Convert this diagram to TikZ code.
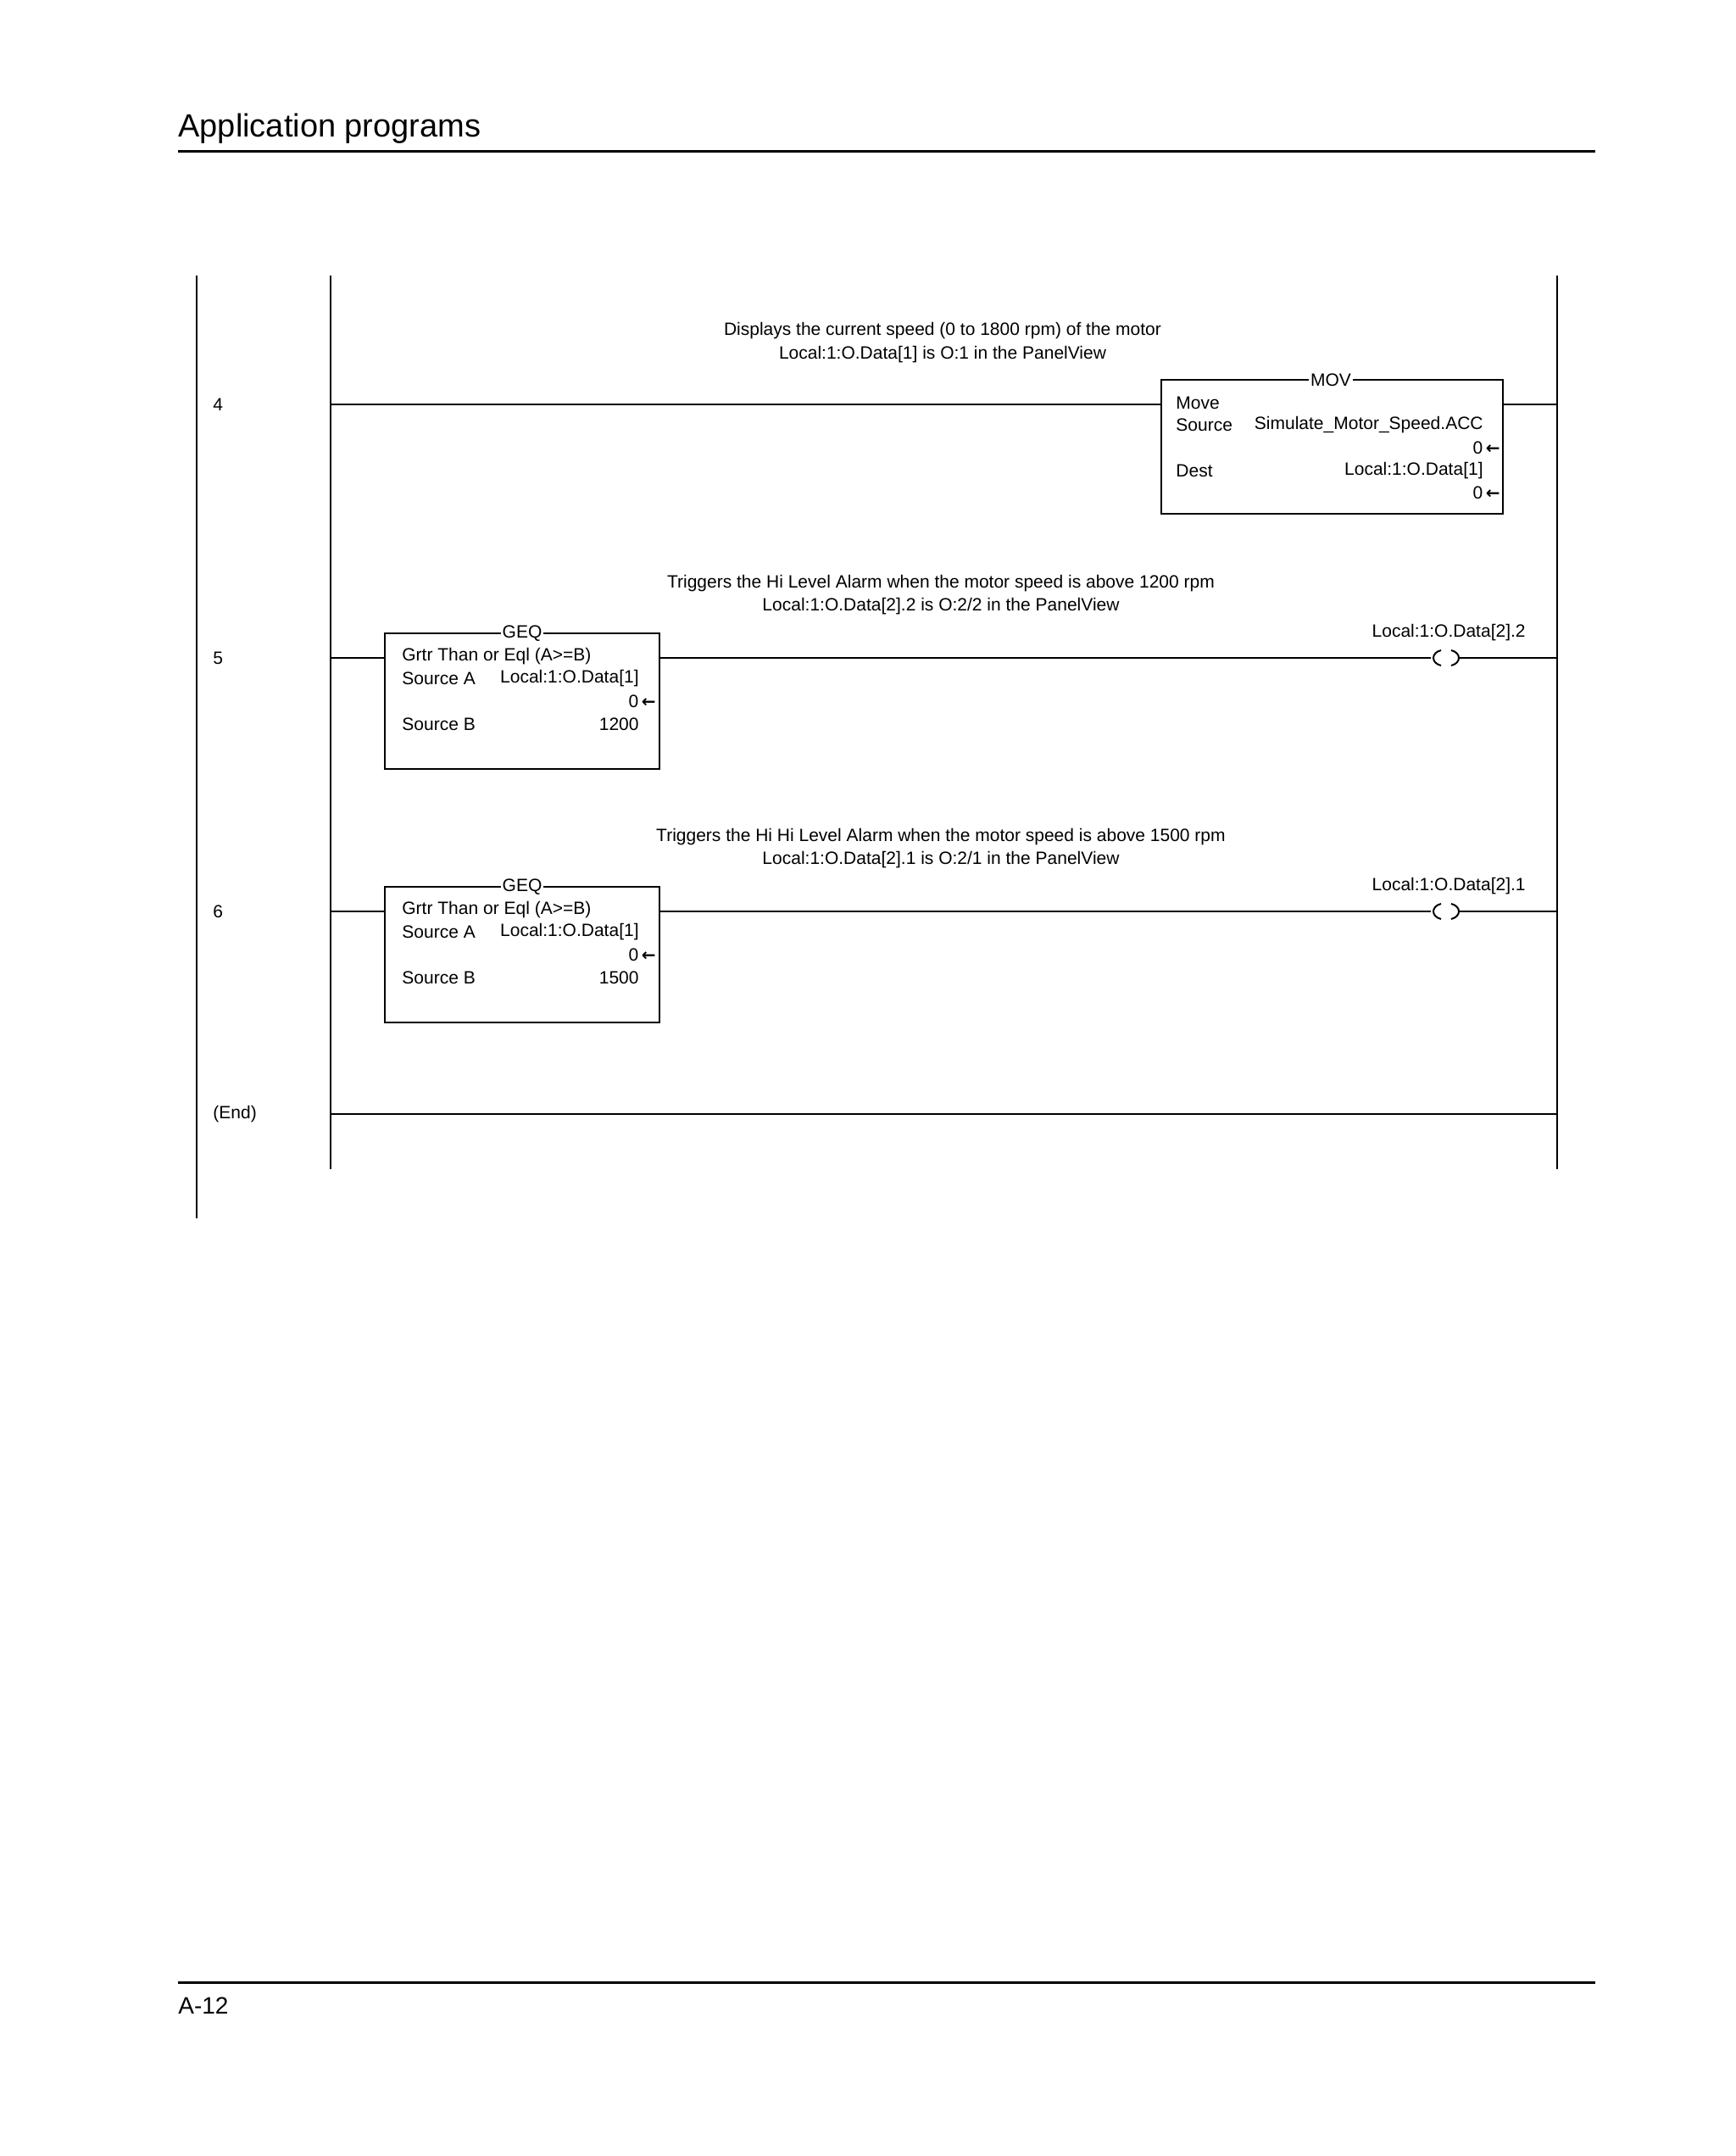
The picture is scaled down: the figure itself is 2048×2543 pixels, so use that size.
\documentclass[tikz,border=0pt]{standalone}
\usepackage{fontspec}
\setmainfont{Liberation Sans}
\newfontfamily\dv{DejaVu Sans}
\begin{document}
\begin{tikzpicture}[x=0.5pt,y=-0.5pt,
  lab/.style={font=\fontsize{10.5}{12}\selectfont,inner sep=0pt},
  rail/.style={line width=1.2pt},
  wire/.style={line width=1pt},
  blk/.style={line width=1.2pt}]
\useasboundingbox (0,0) rectangle (2048,2543);
\newcommand{\arr}{\,{\dv\fontsize{10}{10}\selectfont\bfseries ←}}
% header/footer
\node[anchor=base west,inner sep=0pt,font=\fontsize{19}{22}\selectfont] (hdr) at (210,161) {Application programs};
\draw[line width=1.5pt] (210,178) -- (1882,178);
\draw[line width=1.5pt] (210,2338) -- (1882,2338);
\node[anchor=base west,inner sep=0pt,font=\fontsize{14}{16}\selectfont] (ftr) at (210,2375) {A-12};
% rails
\draw[rail] (232,325) -- (232,1437);
\draw[rail] (390,325) -- (390,1379);
\draw[rail] (1837,325) -- (1837,1379);
% rung numbers
\node[lab,anchor=west] (n4) at (251,477) {4};
\node[lab,anchor=west] (n5) at (251,776) {5};
\node[lab,anchor=west] (n6) at (251,1075) {6};
\node[lab,anchor=west] (nE) at (251,1314) {(End)};
% rung 4
\node[lab] (c4a) at (1112,390) {Displays the current speed (0 to 1800 rpm) of the motor};
\node[lab] (c4b) at (1112,418) {Local:1:O.Data[1] is O:1 in the PanelView};
\draw[blk] (1370,448) rectangle (1773,606);
\node[lab,fill=white,inner xsep=1pt] (mov) at (1570,448) {MOV};
\draw[wire] (390,477) -- (1370,477);
\draw[wire] (1773,477) -- (1837,477);
\node[lab,anchor=west] at (1387,475) {Move};
\node[lab,anchor=west] at (1387,501) {Source};
\node[lab,anchor=east] at (1750,501) {Simulate\_Motor\_Speed.ACC};
\node[lab,anchor=east] at (1770,528) {0\arr};
\node[lab,anchor=west] at (1387,555) {Dest};
\node[lab,anchor=east] at (1750,555) {Local:1:O.Data[1]};
\node[lab,anchor=east] at (1770,581) {0\arr};
% rung 5 and 6
\foreach \y/\v/\b/\c/\d in {776/1200/2/{Triggers the Hi Level Alarm when the motor speed is above 1200 rpm}/{Local:1:O.Data[2].2 is O:2/2 in the PanelView},
                          1075/1500/1/{Triggers the Hi Hi Level Alarm when the motor speed is above 1500 rpm}/{Local:1:O.Data[2].1 is O:2/1 in the PanelView}}{
  \node[lab] at (1110,\y-88) {\c};
  \node[lab] at (1110,\y-61) {\d};
  \draw[blk] (454,\y-29) rectangle (778,\y+131);
  \node[lab,fill=white,inner xsep=1pt] at (616,\y-29) {GEQ};
  \draw[wire] (390,\y) -- (454,\y);
  \draw[wire] (778,\y) -- (1688,\y);
  \draw[wire] (1700,\y-9) .. controls (1688,\y-6) and (1688,\y+6) .. (1700,\y+9);
  \draw[wire] (1712,\y-9) .. controls (1724,\y-6) and (1724,\y+6) .. (1712,\y+9);
  \draw[wire] (1722,\y) -- (1837,\y);
  \node[lab,anchor=east] at (1800,\y-30) {Local:1:O.Data[2].\b};
  \node[lab,anchor=west] at (474,\y-2) {Grtr Than or Eql (A>=B)};
  \node[lab,anchor=west] at (474,\y+24) {Source A};
  \node[lab,anchor=east] at (754,\y+24) {Local:1:O.Data[1]};
  \node[lab,anchor=east] at (774,\y+51) {0\arr};
  \node[lab,anchor=west] at (474,\y+78) {Source B};
  \node[lab,anchor=east] at (754,\y+78) {\v};
}
\draw[wire] (390,1314) -- (1837,1314);
\end{tikzpicture}
\end{document}
